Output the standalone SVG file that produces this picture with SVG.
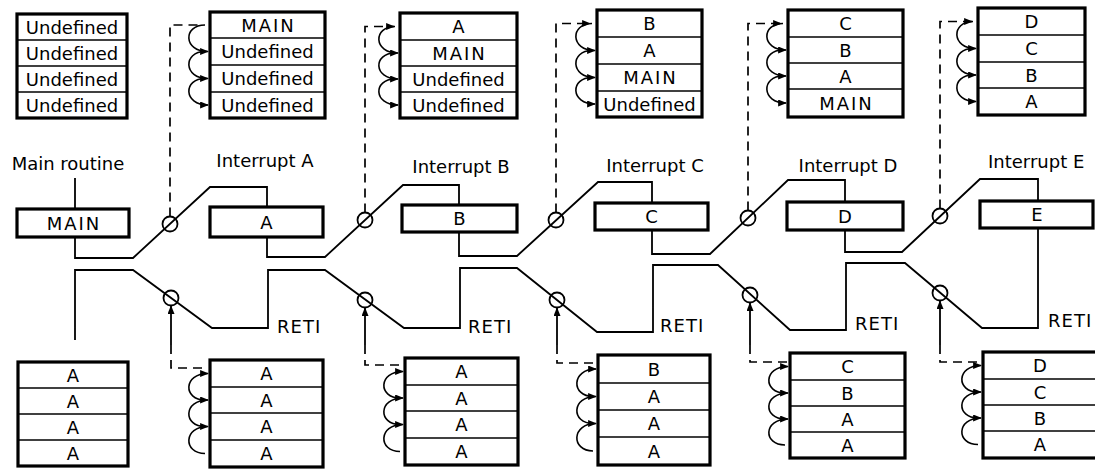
<svg xmlns="http://www.w3.org/2000/svg" width="1095" height="470" viewBox="0 0 1095 470">
<style>
.box{fill:#fff;stroke:#000;stroke-width:3.2}
.row{stroke:#000;stroke-width:1.6}
.flow{fill:none;stroke:#000;stroke-width:1.8}
.dash{fill:none;stroke:#000;stroke-width:1.7;stroke-dasharray:9 6}
.arc{fill:none;stroke:#000;stroke-width:1.6}
.ring{fill:none;stroke:#000;stroke-width:1.8}
text{font-family:"DejaVu Sans","Liberation Sans",sans-serif;font-size:18px;fill:#000}
.c{text-anchor:middle}
.sp{letter-spacing:1px}
.m{letter-spacing:2px}
</style>
<defs>
<marker id="ah" viewBox="0 0 10 8" refX="9" refY="4" markerWidth="9" markerHeight="7" markerUnits="userSpaceOnUse" orient="auto">
<path d="M0,0 L10,4 L0,8 Z" fill="#000"/>
</marker>
</defs>

<!-- top stacks -->
<g id="s1">
<rect class="box" x="17" y="14" width="110" height="104"/>
<line class="row" x1="17" y1="40" x2="127" y2="40"/><line class="row" x1="17" y1="66" x2="127" y2="66"/><line class="row" x1="17" y1="92" x2="127" y2="92"/>
<text class="c" x="72" y="33.5">Undefined</text><text class="c" x="72" y="59.5">Undefined</text><text class="c" x="72" y="85.5">Undefined</text><text class="c" x="72" y="111.5">Undefined</text>
</g>
<g id="s2">
<rect class="box" x="210" y="12" width="115" height="106"/>
<line class="row" x1="210" y1="38" x2="325" y2="38"/><line class="row" x1="210" y1="65" x2="325" y2="65"/><line class="row" x1="210" y1="92" x2="325" y2="92"/>
<text class="c m" x="268.5" y="31.5">MAIN</text><text class="c" x="267.5" y="58">Undefined</text><text class="c" x="267.5" y="85">Undefined</text><text class="c" x="267.5" y="111.5">Undefined</text>
</g>
<g id="s3">
<rect class="box" x="400" y="13" width="117" height="105"/>
<line class="row" x1="400" y1="40" x2="517" y2="40"/><line class="row" x1="400" y1="66" x2="517" y2="66"/><line class="row" x1="400" y1="92" x2="517" y2="92"/>
<text class="c" x="458.5" y="33">A</text><text class="c m" x="459.5" y="59.5">MAIN</text><text class="c" x="458.5" y="85.5">Undefined</text><text class="c" x="458.5" y="111.5">Undefined</text>
</g>
<g id="s4">
<rect class="box" x="597" y="10" width="105" height="107"/>
<line class="row" x1="597" y1="37" x2="702" y2="37"/><line class="row" x1="597" y1="64" x2="702" y2="64"/><line class="row" x1="597" y1="91" x2="702" y2="91"/>
<text class="c" x="649.5" y="30">B</text><text class="c" x="649.5" y="57">A</text><text class="c m" x="650.5" y="84">MAIN</text><text class="c" x="649.5" y="110.5">Undefined</text>
</g>
<g id="s5">
<rect class="box" x="788" y="10" width="115" height="107"/>
<line class="row" x1="788" y1="37" x2="903" y2="37"/><line class="row" x1="788" y1="63" x2="903" y2="63"/><line class="row" x1="788" y1="89" x2="903" y2="89"/>
<text class="c" x="845.5" y="30">C</text><text class="c" x="845.5" y="56.5">B</text><text class="c" x="845.5" y="82.5">A</text><text class="c m" x="846.5" y="109.5">MAIN</text>
</g>
<g id="s6">
<rect class="box" x="978" y="8" width="107" height="107"/>
<line class="row" x1="978" y1="35" x2="1085" y2="35"/><line class="row" x1="978" y1="62" x2="1085" y2="62"/><line class="row" x1="978" y1="88" x2="1085" y2="88"/>
<text class="c" x="1031.5" y="28">D</text><text class="c" x="1031.5" y="55">C</text><text class="c" x="1031.5" y="81.5">B</text><text class="c" x="1031.5" y="108">A</text>
</g>

<!-- routine boxes -->
<g id="main">
<text class="c" x="68" y="170">Main routine</text>
<rect class="box" x="17" y="209" width="112" height="28"/>
<text class="c m" x="74" y="229.5">MAIN</text>
</g>
<g id="intA">
<text class="c" x="265" y="167">Interrupt A</text>
<rect class="box" x="210" y="207" width="113" height="30"/>
<text class="c" x="266.5" y="228.5">A</text>
</g>
<g id="intB">
<text class="c" x="461" y="173">Interrupt B</text>
<rect class="box" x="402" y="205" width="115" height="27"/>
<text class="c" x="459.5" y="225">B</text>
</g>
<g id="intC">
<text class="c" x="655" y="172">Interrupt C</text>
<rect class="box" x="595" y="203" width="113" height="27"/>
<text class="c" x="651.5" y="223">C</text>
</g>
<g id="intD">
<text class="c" x="848" y="172">Interrupt D</text>
<rect class="box" x="787" y="202" width="116" height="28"/>
<text class="c" x="845" y="222.5">D</text>
</g>
<g id="intE">
<text x="988" y="168">Interrupt E</text>
<rect class="box" x="980" y="201" width="113" height="27"/>
<text class="c" x="1037" y="221">E</text>
</g>

<!-- bottom stacks -->
<g id="b1">
<rect class="box" x="18" y="362" width="110" height="104"/>
<line class="row" x1="18" y1="388" x2="128" y2="388"/><line class="row" x1="18" y1="414" x2="128" y2="414"/><line class="row" x1="18" y1="440" x2="128" y2="440"/>
<text class="c" x="73" y="381.5">A</text><text class="c" x="73" y="407.5">A</text><text class="c" x="73" y="433.5">A</text><text class="c" x="73" y="459.5">A</text>
</g>
<g id="b2">
<rect class="box" x="210" y="360" width="113" height="107"/>
<line class="row" x1="210" y1="387" x2="323" y2="387"/><line class="row" x1="210" y1="413" x2="323" y2="413"/><line class="row" x1="210" y1="440" x2="323" y2="440"/>
<text class="c" x="266.5" y="380">A</text><text class="c" x="266.5" y="406.5">A</text><text class="c" x="266.5" y="433">A</text><text class="c" x="266.5" y="460">A</text>
</g>
<g id="b3">
<rect class="box" x="405" y="358" width="113" height="107"/>
<line class="row" x1="405" y1="385" x2="518" y2="385"/><line class="row" x1="405" y1="411" x2="518" y2="411"/><line class="row" x1="405" y1="438" x2="518" y2="438"/>
<text class="c" x="461.5" y="378">A</text><text class="c" x="461.5" y="404.5">A</text><text class="c" x="461.5" y="431">A</text><text class="c" x="461.5" y="458">A</text>
</g>
<g id="b4">
<rect class="box" x="598" y="355" width="112" height="110"/>
<line class="row" x1="598" y1="383" x2="710" y2="383"/><line class="row" x1="598" y1="410" x2="710" y2="410"/><line class="row" x1="598" y1="437" x2="710" y2="437"/>
<text class="c" x="654" y="375.5">B</text><text class="c" x="654" y="403">A</text><text class="c" x="654" y="430">A</text><text class="c" x="654" y="457.5">A</text>
</g>
<g id="b5">
<rect class="box" x="790" y="353" width="115" height="105"/>
<line class="row" x1="790" y1="380" x2="905" y2="380"/><line class="row" x1="790" y1="406" x2="905" y2="406"/><line class="row" x1="790" y1="432" x2="905" y2="432"/>
<text class="c" x="847.5" y="373">C</text><text class="c" x="847.5" y="399.5">B</text><text class="c" x="847.5" y="425.5">A</text><text class="c" x="847.5" y="451.5">A</text>
</g>
<g id="b6">
<rect class="box" x="983" y="352" width="125" height="106"/>
<line class="row" x1="983" y1="379" x2="1095" y2="379"/><line class="row" x1="983" y1="405" x2="1095" y2="405"/><line class="row" x1="983" y1="431" x2="1095" y2="431"/>
<text class="c" x="1040" y="372">D</text><text class="c" x="1040" y="398.5">C</text><text class="c" x="1040" y="424.5">B</text><text class="c" x="1040" y="451">A</text>
</g>

<!-- RETI labels -->
<g id="reti">
<text class="sp" x="277" y="333">RETI</text>
<text class="sp" x="468" y="333">RETI</text>
<text class="sp" x="660" y="332">RETI</text>
<text class="sp" x="855" y="330">RETI</text>
<text class="sp" x="1048" y="327">RETI</text>
</g>

<g id="connectors">
<!-- program flow -->
<path class="flow" d="M75,178 V209"/>
<path class="flow" d="M75,237 V258 H133 L210,187 H267 V207"/>
<path class="flow" d="M267,237 V257 H325 L403,185 H459 V205"/>
<path class="flow" d="M459,232 V256 H517 L598,182 H652 V203"/>
<path class="flow" d="M652,230 V254 H710 L788,180 H845 V202"/>
<path class="flow" d="M845,230 V252 H902 L980,179 H1038 V201"/>
<path class="flow" d="M1038,228 V328 H982 L905,263 H846 V330 H790 L718,265 H653 V332 H597 L517,268 H460 V328 H404 L325,270 H268 V328 H212 L133,270 H75 V340"/>
<!-- circles -->
<circle class="ring" cx="170" cy="224" r="7.5"/>
<circle class="ring" cx="365" cy="220" r="7.5"/>
<circle class="ring" cx="556" cy="220" r="7.5"/>
<circle class="ring" cx="748" cy="218" r="7.5"/>
<circle class="ring" cx="940" cy="216" r="7.5"/>
<circle class="ring" cx="171" cy="298" r="7.5"/>
<circle class="ring" cx="365" cy="300" r="7.5"/>
<circle class="ring" cx="557" cy="300" r="7.5"/>
<circle class="ring" cx="750" cy="295" r="7.5"/>
<circle class="ring" cx="940" cy="293" r="7.5"/>
<!-- top dashed -->
<path class="dash" d="M170,216.5 V25 H198"/>
<path class="dash" d="M365,212.5 V26.5 H394" marker-end="url(#ah)"/>
<path class="dash" d="M556,212.5 V23.5 H590" marker-end="url(#ah)"/>
<path class="dash" d="M748,210.5 V23.5 H781" marker-end="url(#ah)"/>
<path class="dash" d="M940,208.5 V21.5 H972" marker-end="url(#ah)"/>
<!-- bottom arrows and dashed -->
<path class="flow" d="M171,345 V306" marker-end="url(#ah)"/>
<path class="flow" d="M365,345 V308" marker-end="url(#ah)"/>
<path class="flow" d="M557,345 V308" marker-end="url(#ah)"/>
<path class="flow" d="M750,345 V303" marker-end="url(#ah)"/>
<path class="flow" d="M940,345 V301" marker-end="url(#ah)"/>
<path class="dash" d="M171,345 V368 H207"/>
<path class="dash" d="M365,345 V365 H402"/>
<path class="dash" d="M557,345 V363 H595"/>
<path class="dash" d="M750,345 V362 H787"/>
<path class="dash" d="M940,345 V362 H980"/>
<!-- top stack arcs -->
<path class="arc" d="M205,25 C183,25 183,51.5 208,51.5" marker-end="url(#ah)"/>
<path class="arc" d="M205,51.5 C183,51.5 183,78.5 208,78.5" marker-end="url(#ah)"/>
<path class="arc" d="M205,78.5 C183,78.5 183,105 208,105" marker-end="url(#ah)"/>
<path class="arc" d="M395,26.5 C373,26.5 373,53 398,53" marker-end="url(#ah)"/>
<path class="arc" d="M395,53 C373,53 373,79 398,79" marker-end="url(#ah)"/>
<path class="arc" d="M395,79 C373,79 373,105 398,105" marker-end="url(#ah)"/>
<path class="arc" d="M592,23.5 C570,23.5 570,50.5 595,50.5" marker-end="url(#ah)"/>
<path class="arc" d="M592,50.5 C570,50.5 570,77.5 595,77.5" marker-end="url(#ah)"/>
<path class="arc" d="M592,77.5 C570,77.5 570,104 595,104" marker-end="url(#ah)"/>
<path class="arc" d="M783,23.5 C761,23.5 761,50 786,50" marker-end="url(#ah)"/>
<path class="arc" d="M783,50 C761,50 761,76 786,76" marker-end="url(#ah)"/>
<path class="arc" d="M783,76 C761,76 761,103 786,103" marker-end="url(#ah)"/>
<path class="arc" d="M973,21.5 C951,21.5 951,48.5 976,48.5" marker-end="url(#ah)"/>
<path class="arc" d="M973,48.5 C951,48.5 951,75 976,75" marker-end="url(#ah)"/>
<path class="arc" d="M973,75 C951,75 951,101.5 976,101.5" marker-end="url(#ah)"/>
<!-- bottom stack arcs -->
<path class="arc" d="M205,453.5 C183,453.5 183,426.5 208,426.5" marker-end="url(#ah)"/>
<path class="arc" d="M205,426.5 C183,426.5 183,400 208,400" marker-end="url(#ah)"/>
<path class="arc" d="M205,400 C183,400 183,373.5 208,373.5" marker-end="url(#ah)"/>
<path class="arc" d="M400,451.5 C378,451.5 378,424.5 403,424.5" marker-end="url(#ah)"/>
<path class="arc" d="M400,424.5 C378,424.5 378,398 403,398" marker-end="url(#ah)"/>
<path class="arc" d="M400,398 C378,398 378,371.5 403,371.5" marker-end="url(#ah)"/>
<path class="arc" d="M593,451 C571,451 571,423.5 596,423.5" marker-end="url(#ah)"/>
<path class="arc" d="M593,423.5 C571,423.5 571,396.5 596,396.5" marker-end="url(#ah)"/>
<path class="arc" d="M593,396.5 C571,396.5 571,369 596,369" marker-end="url(#ah)"/>
<path class="arc" d="M785,445 C763,445 763,419 788,419" marker-end="url(#ah)"/>
<path class="arc" d="M785,419 C763,419 763,393 788,393" marker-end="url(#ah)"/>
<path class="arc" d="M785,393 C763,393 763,366.5 788,366.5" marker-end="url(#ah)"/>
<path class="arc" d="M978,444.5 C956,444.5 956,418 981,418" marker-end="url(#ah)"/>
<path class="arc" d="M978,418 C956,418 956,392 981,392" marker-end="url(#ah)"/>
<path class="arc" d="M978,392 C956,392 956,365.5 981,365.5" marker-end="url(#ah)"/>
</g>
</svg>
